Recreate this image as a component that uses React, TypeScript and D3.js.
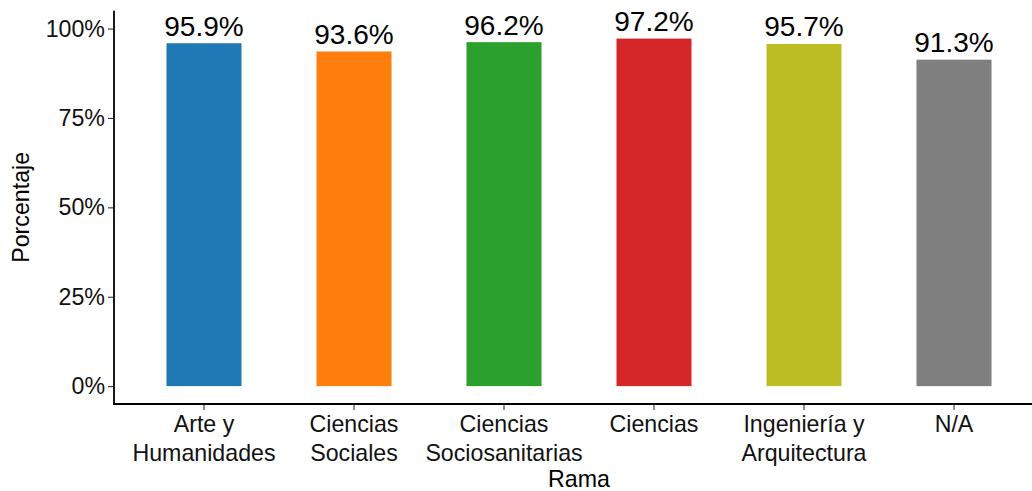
import React, { useEffect, useRef } from 'react'
import { select, scaleBand, scaleLinear, axisLeft, axisBottom } from 'd3'

const ramas = ['Arte y\nHumanidades', 'Ciencias\nSociales', 'Ciencias\nSociosanitarias', 'Ciencias', 'Ingeniería y\nArquitectura', 'N/A']
const porcentajes = [95.9, 93.6, 96.2, 97.2, 95.7, 91.3]
const colores = ['#1f77b4', '#ff7f0e', '#2ca02c', '#d62728', '#bcbd22', '#7f7f7f']
const yTicks = [0, 25, 50, 75, 100]

const FONT = '"Liberation Sans", Arial, Helvetica, sans-serif'

export default function App() {
    const svgRef = useRef<SVGSVGElement>(null)

    useEffect(() => {
        const svg = select(svgRef.current)
        svg.selectAll('*').remove()

        const left = 114
        const right = 1044
        const top = 10.7
        const bottom = 404

        const xScale = scaleBand()
            .domain(ramas)
            .range([left, right])
            .paddingInner(0.5)
            .paddingOuter(0.35)

        const yScale = scaleLinear()
            .domain([-5, 105])
            .range([bottom, top])

        // bars
        svg.append('g')
            .selectAll('rect')
            .data(ramas)
            .join('rect')
            .attr('x', d => xScale(d))
            .attr('width', xScale.bandwidth())
            .attr('y', (d, i) => yScale(porcentajes[i]))
            .attr('height', (d, i) => yScale(0) - yScale(porcentajes[i]))
            .attr('fill', (d, i) => colores[i])

        // value labels
        svg.append('g')
            .selectAll('text')
            .data(ramas)
            .join('text')
            .attr('x', d => xScale(d) + xScale.bandwidth() / 2)
            .attr('y', (d, i) => yScale(porcentajes[i]) - 7.5)
            .attr('text-anchor', 'middle')
            .attr('font-family', FONT)
            .attr('font-size', 28)
            .attr('fill', '#000')
            .text((d, i) => porcentajes[i].toFixed(1) + '%')

        // y axis
        const yAxis = svg.append('g')
            .attr('transform', `translate(${left},0)`)
            .call(axisLeft(yScale).tickValues(yTicks).tickFormat(d => d + '%').tickSize(6).tickPadding(3))
        yAxis.select('.domain').remove()
        yAxis.selectAll('.tick line').attr('stroke', '#333').attr('stroke-width', 1.1)
        yAxis.selectAll('.tick text')
            .attr('font-family', FONT)
            .attr('font-size', 23.2)
            .attr('fill', '#111')

        // x axis
        const xAxis = svg.append('g')
            .attr('transform', `translate(0,${bottom})`)
            .call(axisBottom(xScale).tickSize(6).tickFormat(() => ''))
        xAxis.select('.domain').remove()
        xAxis.selectAll('.tick line').attr('stroke', '#333').attr('stroke-width', 1.1)

        xAxis.selectAll('.tick').each(function (d) {
            const lines = String(d).split('\n')
            const t = select(this).append('text')
                .attr('text-anchor', 'middle')
                .attr('font-family', FONT)
                .attr('font-size', 23.2)
                .attr('fill', '#111')
            lines.forEach((ln, j) => {
                t.append('tspan').attr('x', 0).attr('y', 28 + j * 28.5).text(ln)
            })
        })

        // axis lines
        svg.append('line')
            .attr('x1', left).attr('x2', left)
            .attr('y1', top).attr('y2', bottom + 0.8)
            .attr('stroke', '#000').attr('stroke-width', 1.8)
        svg.append('line')
            .attr('x1', left - 0.8).attr('x2', right)
            .attr('y1', bottom).attr('y2', bottom)
            .attr('stroke', '#000').attr('stroke-width', 1.8)

        // axis titles
        svg.append('text')
            .attr('x', (left + right) / 2)
            .attr('y', 486.5)
            .attr('text-anchor', 'middle')
            .attr('font-family', FONT)
            .attr('font-size', 23.2)
            .attr('fill', '#000')
            .text('Rama')

        svg.append('text')
            .attr('transform', `translate(29,${(yScale(-5) + yScale(105)) / 2}) rotate(-90)`)
            .attr('text-anchor', 'middle')
            .attr('font-family', FONT)
            .attr('font-size', 23.2)
            .attr('fill', '#000')
            .text('Porcentaje')
    }, [])

    return (
        <div style={{ position: 'absolute', left: 0, top: 0 }}>
            <svg width='1032' height='491' ref={svgRef} style={{ display: 'block', background: '#fff' }}></svg>
        </div>
    )
}
